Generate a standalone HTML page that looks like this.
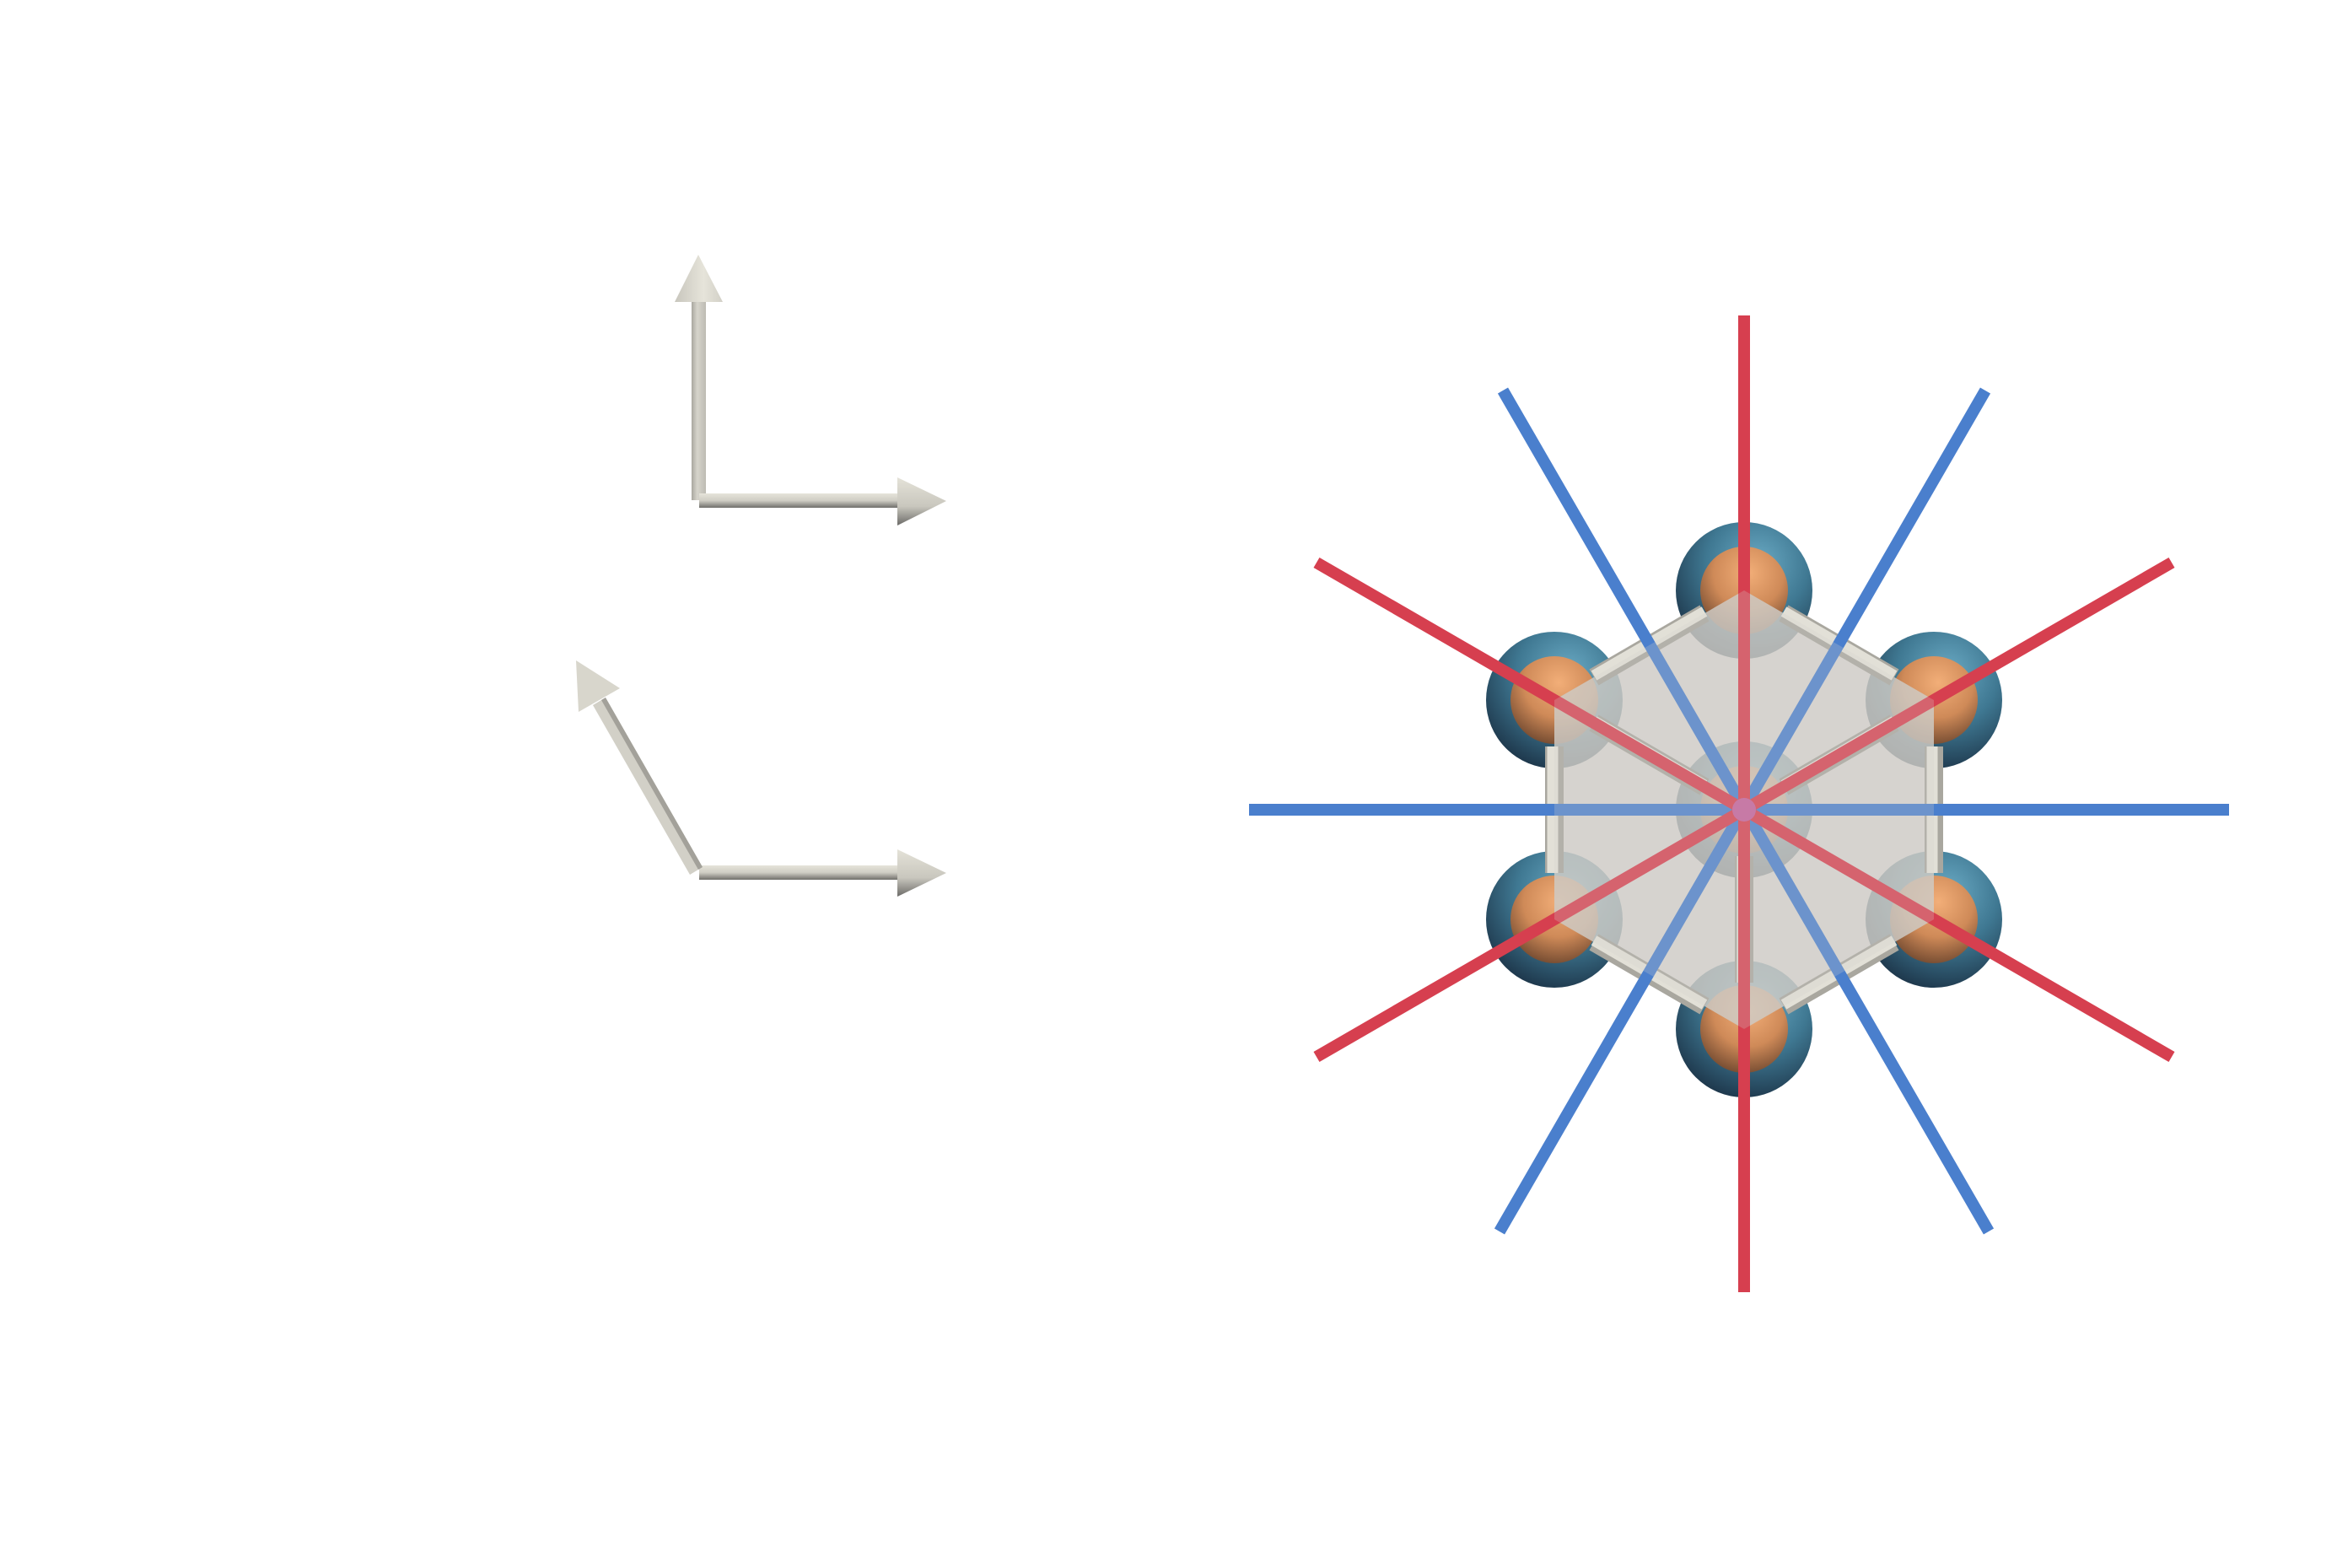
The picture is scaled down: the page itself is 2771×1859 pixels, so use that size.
<!DOCTYPE html>
<html><head><meta charset="utf-8"><style>html,body{margin:0;padding:0;background:#fff}svg{display:block}</style></head>
<body>
<svg width="2771" height="1859" viewBox="0 0 2771 1859" xmlns="http://www.w3.org/2000/svg">
<defs>
<radialGradient id="outer" cx="0.6" cy="0.3" r="0.75">
<stop offset="0" stop-color="#6aaac4"/><stop offset="0.5" stop-color="#3f7892"/><stop offset="1" stop-color="#1c3448"/>
</radialGradient>
<radialGradient id="inner" cx="0.55" cy="0.3" r="0.8">
<stop offset="0" stop-color="#f2ae78"/><stop offset="0.5" stop-color="#cf8a58"/><stop offset="1" stop-color="#5e3c28"/>
</radialGradient>
<linearGradient id="vshaft" x1="0" y1="0" x2="1" y2="0">
<stop offset="0" stop-color="#a9a79f"/><stop offset="0.4" stop-color="#d6d4cb"/><stop offset="1" stop-color="#bdbbb3"/>
</linearGradient>
<linearGradient id="hshaft" x1="0" y1="0" x2="0" y2="1">
<stop offset="0" stop-color="#e6e4da"/><stop offset="0.5" stop-color="#cfcdc4"/><stop offset="1" stop-color="#6f6e6a"/>
</linearGradient>
<linearGradient id="hhead" x1="0" y1="0" x2="0" y2="1">
<stop offset="0" stop-color="#e4e2d8"/><stop offset="0.6" stop-color="#c9c7be"/><stop offset="1" stop-color="#6c6b68"/>
</linearGradient>
<linearGradient id="vhead" x1="0" y1="0" x2="1" y2="0">
<stop offset="0" stop-color="#c8c6bd"/><stop offset="0.6" stop-color="#e6e4da"/><stop offset="1" stop-color="#d2d0c7"/>
</linearGradient>
<linearGradient id="sshaft" x1="0" y1="0" x2="1" y2="0">
<stop offset="0" stop-color="#e2e0d6"/><stop offset="0.6" stop-color="#cdcbc2"/><stop offset="1" stop-color="#8a8983"/>
</linearGradient>
</defs>

<!-- arrows -->
<rect x="820" y="356" width="17" height="237" fill="url(#vshaft)"/>
<polygon points="800,358 857,358 828,302" fill="url(#vhead)"/>
<rect x="829" y="585" width="236" height="17" fill="url(#hshaft)"/>
<polygon points="1064,566 1064,623 1122,594" fill="url(#hhead)"/>

<rect x="829" y="1026" width="236" height="17" fill="url(#hshaft)"/>
<polygon points="1064,1007 1064,1063 1122,1035" fill="url(#hhead)"/>
<polygon points="703,836 718,827 833,1028 818,1037" fill="#d2d0c7"/>
<polygon points="713,830 718,827 833,1028 828,1031" fill="#a3a19a"/>
<polygon points="686,844 735,816 683,783" fill="#d8d6cc"/>

<!-- atoms -->
<g>
<circle cx="2068" cy="700" r="81" fill="url(#outer)"/><circle cx="2068" cy="700" r="52" fill="url(#inner)"/>
<circle cx="2293" cy="830" r="81" fill="url(#outer)"/><circle cx="2293" cy="830" r="52" fill="url(#inner)"/>
<circle cx="2293" cy="1090" r="81" fill="url(#outer)"/><circle cx="2293" cy="1090" r="52" fill="url(#inner)"/>
<circle cx="2068" cy="1220" r="81" fill="url(#outer)"/><circle cx="2068" cy="1220" r="52" fill="url(#inner)"/>
<circle cx="1843" cy="1090" r="81" fill="url(#outer)"/><circle cx="1843" cy="1090" r="52" fill="url(#inner)"/>
<circle cx="1843" cy="830" r="81" fill="url(#outer)"/><circle cx="1843" cy="830" r="52" fill="url(#inner)"/>
<circle cx="2068" cy="960" r="81" fill="url(#outer)"/><circle cx="2068" cy="960" r="52" fill="url(#inner)"/>
</g>

<!-- plane -->
<polygon points="2068,700 2293,830 2293,1090 2068,1220 1843,1090 1843,830" fill="#ccc9c3" fill-opacity="0.78"/>

<!-- bonds -->
<g stroke-linecap="butt">
<g stroke="#a9a79f" stroke-width="22">
<line x1="1890" y1="803" x2="2021" y2="727"/>
<line x1="2115" y1="727" x2="2246" y2="803"/>
<line x1="1843" y1="885" x2="1843" y2="1035"/>
<line x1="2293" y1="885" x2="2293" y2="1035"/>
<line x1="1890" y1="1117" x2="2021" y2="1193"/>
<line x1="2115" y1="1193" x2="2246" y2="1117"/>
<line x1="2068" y1="1015" x2="2068" y2="1165"/>
<line x1="1890" y1="857" x2="2021" y2="933"/>
<line x1="2246" y1="857" x2="2115" y2="933"/>
</g>
<g stroke="#e2e0d7" stroke-width="13">
<line x1="1890" y1="801" x2="2021" y2="725"/>
<line x1="2115" y1="725" x2="2246" y2="801"/>
<line x1="1841" y1="885" x2="1841" y2="1035"/>
<line x1="2291" y1="885" x2="2291" y2="1035"/>
<line x1="1890" y1="1115" x2="2021" y2="1191"/>
<line x1="2115" y1="1191" x2="2246" y2="1115"/>
<line x1="2066" y1="1015" x2="2066" y2="1165"/>
<line x1="1890" y1="855" x2="2021" y2="931"/>
<line x1="2246" y1="855" x2="2115" y2="931"/>
</g>
</g>

<!-- symmetry lines -->
<g stroke-width="14" stroke-linecap="butt">
<line x1="1481" y1="960" x2="2643" y2="960" stroke="#4a7fcd"/>
<line x1="1782" y1="463" x2="2358" y2="1460" stroke="#4a7fcd"/>
<line x1="2354" y1="463" x2="1778" y2="1460" stroke="#4a7fcd"/>
<line x1="2068" y1="374" x2="2068" y2="1532" stroke="#d63f4f"/>
<line x1="1561" y1="667" x2="2575" y2="1253" stroke="#d63f4f"/>
<line x1="2575" y1="667" x2="1561" y2="1253" stroke="#d63f4f"/>
</g>
<polygon points="2068,700 2293,830 2293,1090 2068,1220 1843,1090 1843,830" fill="#d3d0cb" fill-opacity="0.25"/>
<circle cx="2068" cy="960" r="14" fill="#c77aa6"/>
</svg>
</body></html>
